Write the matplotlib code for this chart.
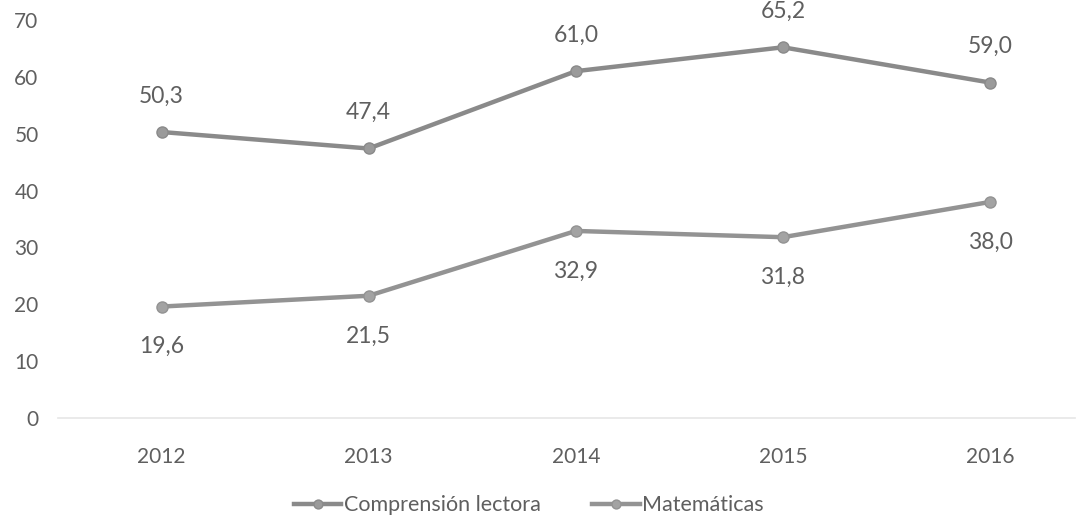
import matplotlib
matplotlib.use("Agg")
import matplotlib.pyplot as plt

years = ["2012", "2013", "2014", "2015", "2016"]
lectora = [50.3, 47.4, 61.0, 65.2, 59.0]
matematicas = [19.6, 21.5, 32.9, 31.8, 38.0]
yticks = [0, 10, 20, 30, 40, 50, 60, 70]

plt.rcParams['font.family'] = ['Lato', 'DejaVu Sans']
text_col = '#5f5f5f'

fig = plt.figure(figsize=(10.79, 5.23), dpi=100)
ax = fig.add_axes([58 / 1079, 1 - 418 / 523, (1075 - 58) / 1079, (418 - 20) / 523])

x = list(range(len(years)))
ax.plot(x, lectora, color='#8a8a8a', lw=3.2, marker='o', ms=8,
        markerfacecolor='#9a9a9a', markeredgecolor='#8a8a8a', label='Comprensión lectora')
ax.plot(x, matematicas, color='#939393', lw=3.2, marker='o', ms=8,
        markerfacecolor='#a3a3a3', markeredgecolor='#939393', label='Matemáticas')

# etiquetas de datos: arriba para lectora, abajo para matemáticas
for xi, v in zip(x, lectora):
    ax.annotate(f"{v:.1f}".replace('.', ','), (xi, v), xytext=(0, 26), textcoords='offset points',
                ha='center', va='center', fontsize=16.5, color=text_col)
for xi, v in zip(x, matematicas):
    ax.annotate(f"{v:.1f}".replace('.', ','), (xi, v), xytext=(0, -29), textcoords='offset points',
                ha='center', va='center', fontsize=16.5, color=text_col)

ax.set_xlim(-0.5, 4.41)
ax.set_ylim(0, 70)
ax.set_yticks(yticks)
ax.set_xticks(x)
ax.set_xticklabels(years)
ax.tick_params(length=0, labelsize=15, labelcolor=text_col)
ax.tick_params(axis='x', pad=21)
ax.tick_params(axis='y', pad=14)
for s in ['top', 'right', 'left']:
    ax.spines[s].set_visible(False)
ax.spines['bottom'].set_color('#e6e6e6')
ax.spines['bottom'].set_linewidth(1.2)

fig.legend(loc='lower center', bbox_to_anchor=(0.49, -0.022), ncol=2, frameon=False,
           fontsize=15.5, labelcolor=text_col, handlelength=2.2, handletextpad=0.1,
           columnspacing=2.4, markerscale=0.8)

fig.savefig('out.png', dpi=100)
